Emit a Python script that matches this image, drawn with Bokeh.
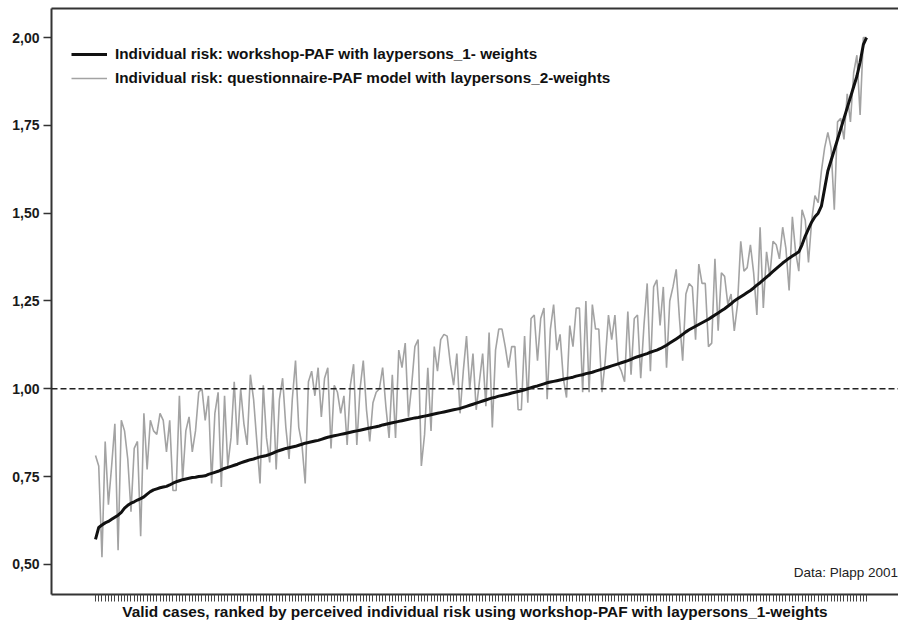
from bokeh.plotting import figure
from bokeh.models import (Range1d, FixedTicker, LinearAxis, Span, Legend,
                          LegendItem, Label, CustomJSTickFormatter)
from bokeh.embed import file_html
from bokeh.resources import INLINE

# ---- data ----
workshop = [
    0.571, 0.605, 0.612, 0.618, 0.622, 0.628, 0.634, 0.640, 0.648, 0.660,
    0.668, 0.674, 0.678, 0.683, 0.687, 0.692, 0.700, 0.707, 0.712, 0.715,
    0.718, 0.720, 0.722, 0.726, 0.731, 0.735, 0.738, 0.741, 0.743, 0.745,
    0.747, 0.748, 0.750, 0.751, 0.752, 0.756, 0.759, 0.762, 0.765, 0.769,
    0.773, 0.776, 0.779, 0.782, 0.785, 0.789, 0.792, 0.795, 0.798, 0.800,
    0.803, 0.806, 0.808, 0.810, 0.813, 0.817, 0.821, 0.824, 0.827, 0.830,
    0.832, 0.834, 0.836, 0.839, 0.842, 0.845, 0.847, 0.849, 0.851, 0.853,
    0.856, 0.859, 0.862, 0.864, 0.866, 0.868, 0.870, 0.872, 0.874, 0.876,
    0.878, 0.880, 0.882, 0.884, 0.886, 0.888, 0.890, 0.892, 0.894, 0.897,
    0.899, 0.901, 0.903, 0.905, 0.907, 0.909, 0.911, 0.913, 0.915, 0.917,
    0.918, 0.920, 0.922, 0.924, 0.926, 0.928, 0.930, 0.932, 0.934, 0.936,
    0.938, 0.940, 0.942, 0.944, 0.947, 0.950, 0.953, 0.956, 0.959, 0.962,
    0.965, 0.968, 0.971, 0.974, 0.976, 0.979, 0.981, 0.983, 0.985, 0.988,
    0.990, 0.992, 0.994, 0.997, 1.000, 1.003, 1.006, 1.008, 1.011, 1.014,
    1.017, 1.019, 1.021, 1.023, 1.025, 1.027, 1.029, 1.031, 1.033, 1.036,
    1.038, 1.040, 1.043, 1.045, 1.047, 1.050, 1.053, 1.056, 1.059, 1.062,
    1.065, 1.068, 1.071, 1.074, 1.077, 1.080, 1.084, 1.088, 1.091, 1.094,
    1.097, 1.100, 1.104, 1.107, 1.110, 1.114, 1.119, 1.124, 1.130, 1.136,
    1.142, 1.148, 1.155, 1.162, 1.168, 1.173, 1.178, 1.183, 1.188, 1.193,
    1.198, 1.204, 1.210, 1.216, 1.222, 1.228, 1.235, 1.242, 1.250, 1.256,
    1.262, 1.268, 1.274, 1.280, 1.287, 1.295, 1.302, 1.310, 1.318, 1.326,
    1.334, 1.342, 1.350, 1.358, 1.365, 1.372, 1.378, 1.384, 1.390, 1.410,
    1.435, 1.455, 1.475, 1.490, 1.500, 1.520, 1.570, 1.620, 1.650, 1.680,
    1.710, 1.740, 1.770, 1.800, 1.830, 1.860, 1.890, 1.930, 1.980, 2.000,
]

questionnaire = [
    0.81, 0.78, 0.52, 0.85, 0.67, 0.78, 0.90, 0.54, 0.91, 0.88,
    0.80, 0.65, 0.83, 0.85, 0.58, 0.93, 0.77, 0.91, 0.88, 0.87,
    0.93, 0.91, 0.82, 0.91, 0.71, 0.71, 0.98, 0.74, 0.88, 0.92,
    0.82, 0.88, 0.99, 1.00, 0.91, 0.98, 0.73, 0.93, 0.99, 0.72,
    0.98, 0.78, 0.86, 1.02, 0.84, 1.00, 0.90, 0.84, 1.04, 0.97,
    0.85, 0.73, 1.01, 0.86, 0.79, 1.00, 0.77, 0.97, 1.03, 0.89,
    0.80, 0.97, 1.08, 0.89, 0.84, 0.73, 1.02, 1.05, 0.98, 1.06,
    0.92, 1.03, 1.06, 0.83, 1.01, 0.99, 0.93, 0.98, 0.84, 1.01,
    1.07, 0.84, 1.00, 1.08, 0.94, 0.85, 0.96, 0.99, 1.00, 1.06,
    0.95, 0.86, 1.04, 0.86, 1.11, 1.06, 1.13, 0.92, 1.01, 1.12,
    1.14, 0.78, 0.87, 1.06, 0.88, 1.12, 1.05, 1.14, 1.155, 1.15,
    1.07, 1.01, 1.10, 0.93, 1.05, 1.15, 1.00, 1.10, 0.94, 1.02,
    1.10, 0.95, 1.16, 0.89, 1.11, 1.17, 1.17, 1.12, 1.06, 1.12,
    1.12, 0.94, 0.94, 1.15, 0.96, 1.20, 1.21, 1.08, 1.20, 1.23,
    0.97, 1.17, 1.24, 1.11, 1.155, 1.03, 0.975, 1.18, 1.12, 1.23,
    1.23, 0.99, 1.25, 0.99, 1.24, 1.17, 1.17, 0.99, 1.08, 1.21,
    1.14, 1.21, 1.07, 1.05, 1.02, 1.22, 1.04, 1.20, 1.21, 1.03,
    1.18, 1.30, 1.05, 1.29, 1.31, 1.18, 1.29, 1.06, 1.25, 1.29,
    1.34, 1.20, 1.08, 1.27, 1.30, 1.29, 1.14, 1.355, 1.30, 1.30,
    1.12, 1.13, 1.37, 1.165, 1.33, 1.32, 1.24, 1.27, 1.165, 1.24,
    1.42, 1.335, 1.345, 1.41, 1.33, 1.21, 1.46, 1.23, 1.39, 1.32,
    1.42, 1.41, 1.37, 1.46, 1.40, 1.28, 1.49, 1.39, 1.335, 1.51,
    1.48, 1.36, 1.48, 1.55, 1.53, 1.62, 1.686, 1.73, 1.686, 1.51,
    1.76, 1.77, 1.71, 1.84, 1.76, 1.90, 1.95, 1.78, 2.00, 2.00,
]

y_ticks = [0.50, 0.75, 1.00, 1.25, 1.50, 1.75, 2.00]
reference_level = 1.00
legend_labels = [
    "Individual risk: workshop-PAF with laypersons_1- weights",
    "Individual risk: questionnaire-PAF model with laypersons_2-weights",
]
x_title = ("Valid cases, ranked by perceived individual risk using "
           "workshop-PAF with laypersons_1-weights")
source_note = "Data: Plapp 2001"

cases = list(range(len(workshop)))
FONT = "Liberation Sans"

p = figure(width=898, height=622, output_backend="svg", toolbar_location=None,
           x_range=Range1d(-13.64, 248.9), y_range=Range1d(0.414, 2.083),
           min_border_left=51, min_border_right=0, min_border_top=8,
           min_border_bottom=0)
p.outline_line_color = None
p.grid.visible = False
p.background_fill_color = "white"
p.border_fill_color = "white"

# y axis
yax = p.yaxis[0]
yax.ticker = FixedTicker(ticks=y_ticks)
yax.formatter = CustomJSTickFormatter(code="return tick.toFixed(2).replace('.', ',');")
yax.major_label_text_font = FONT
yax.major_label_text_font_style = "bold"
yax.major_label_text_font_size = "14px"
yax.major_label_text_color = "#1a1a1a"
yax.major_label_standoff = 4
yax.major_tick_out = 8
yax.major_tick_in = 0
yax.major_tick_line_width = 1.5
yax.major_tick_line_color = "#333333"
yax.minor_tick_line_color = None
yax.axis_line_width = 2
yax.axis_line_color = "#333333"

# x axis: one tick per case, no labels
xax = p.xaxis[0]
xax.ticker = FixedTicker(ticks=cases)
xax.major_label_text_font_size = "0px"
xax.major_label_text_color = None
xax.major_label_standoff = 0
xax.major_tick_out = 7
xax.major_tick_in = 0
xax.major_tick_line_color = "#444444"
xax.major_tick_line_width = 1
xax.minor_tick_line_color = None
xax.axis_line_width = 2
xax.axis_line_color = "#333333"
xax.axis_label = x_title
xax.axis_label_text_font = FONT
xax.axis_label_text_font_style = "bold"
xax.axis_label_text_font_size = "15.4px"
xax.axis_label_text_color = "#111111"
xax.axis_label_standoff = 1

# top border as an empty axis
top = LinearAxis(ticker=FixedTicker(ticks=[]), axis_line_width=2,
                 axis_line_color="#333333", major_tick_line_color=None,
                 minor_tick_line_color=None, major_label_text_font_size="0px",
                 major_label_text_color=None, major_label_standoff=0)
p.add_layout(top, "above")

# reference line
p.add_layout(Span(location=reference_level, dimension="width",
                  line_color="#222222", line_dash="6 3", line_width=1.5))

r_gray = p.line(cases, questionnaire, line_color="#a3a3a3", line_width=1.6)
r_black = p.line(cases, workshop, line_color="#111111", line_width=3)

legend = Legend(items=[LegendItem(label=legend_labels[0], renderers=[r_black]),
                       LegendItem(label=legend_labels[1], renderers=[r_gray])],
                location=(20, 505), orientation="vertical",
                glyph_width=36, glyph_height=22, label_height=22,
                label_standoff=8, spacing=2, padding=0, margin=0,
                label_text_font=FONT, label_text_font_style="bold",
                label_text_font_size="15.3px", label_text_color="#111111",
                border_line_color=None, background_fill_alpha=0)
p.add_layout(legend, "center")

p.add_layout(Label(x=216.4, y=0.477, text=source_note, text_font=FONT,
                   text_font_size="13.5px", text_baseline="middle",
                   text_color="#222222"))

open("out.html", "w").write(file_html(p, INLINE))
